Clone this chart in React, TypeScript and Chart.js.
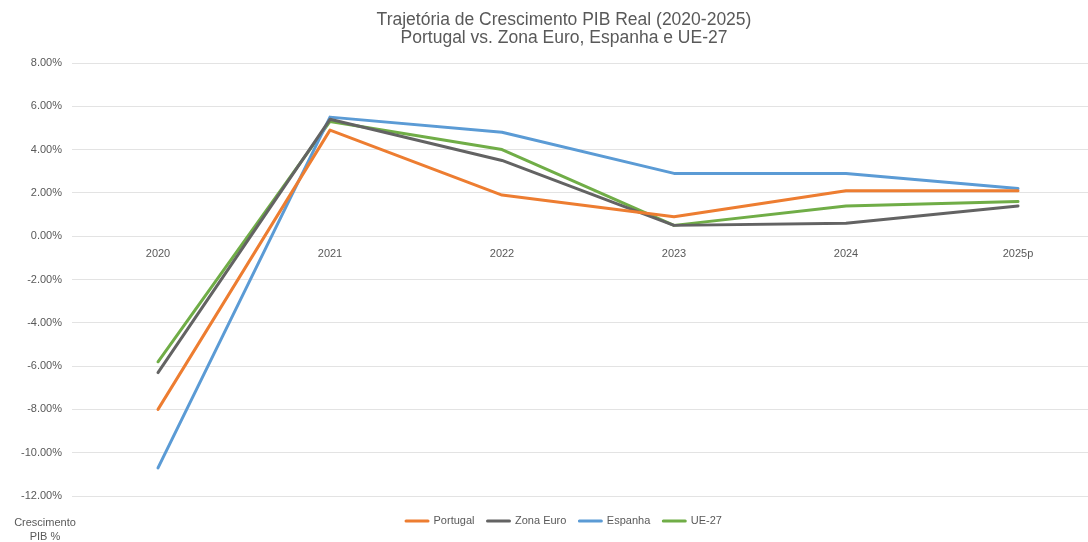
import React, { useEffect, useRef } from "react";
import { Chart, registerables } from "chart.js";

Chart.register(...registerables);

const categories = ["2020", "2021", "2022", "2023", "2024", "2025p"];
const portugal = [-8.0, 4.9, 1.9, 0.9, 2.1, 2.1];
const zonaEuro = [-6.3, 5.4, 3.5, 0.5, 0.6, 1.4];
const espanha = [-10.7, 5.5, 4.8, 2.9, 2.9, 2.2];
const ue27 = [-5.8, 5.3, 4.0, 0.5, 1.4, 1.6];
const titleLines = ["Trajetória de Crescimento PIB Real (2020-2025)", "Portugal vs. Zona Euro, Espanha e UE-27"];
const yAxisTitle = ["Crescimento", "PIB %"];

const FONT = "'Liberation Sans', Arial, Helvetica, sans-serif";
const TEXT = "#595959";

export default function App() {
  const ref = useRef<HTMLCanvasElement | null>(null);
  useEffect(() => {
    if (!ref.current) return;
    const axisTitlePlugin = {
      id: "axisTitleBottom",
      afterDraw(chart: any) {
        const ctx = chart.ctx;
        ctx.save();
        ctx.fillStyle = TEXT;
        ctx.font = `11px ${FONT}`;
        ctx.textAlign = "center";
        ctx.textBaseline = "middle";
        ctx.fillText(yAxisTitle[0], 45, 523);
        ctx.fillText(yAxisTitle[1], 45, 537);
        ctx.restore();
      },
    };
    const mk = (label: string, data: number[], color: string) => ({
      label,
      data,
      borderColor: color,
      backgroundColor: color,
      borderWidth: 3,
      pointRadius: 0,
      pointHoverRadius: 0,
      tension: 0,
      borderCapStyle: "round" as const,
      borderJoinStyle: "round" as const,
      yAxisID: "y",
    });
    const chart = new Chart(ref.current, {
      type: "line",
      data: {
        labels: categories,
        datasets: [
          mk("Portugal", portugal, "#ED7D31"),
          mk("Zona Euro", zonaEuro, "#636363"),
          mk("Espanha", espanha, "#5B9BD5"),
          mk("UE-27", ue27, "#70AD47"),
        ],
      },
      options: {
        responsive: false,
        animation: false,
        layout: { padding: { left: 0, right: 0, top: 0, bottom: 5.5 } },
        plugins: {
          title: {
            display: true,
            text: titleLines,
            color: TEXT,
            font: { family: FONT, size: 17.5, weight: "normal", lineHeight: 18 / 17.5 },
            padding: { top: 11, bottom: 16 },
          },
          legend: {
            display: true,
            position: "bottom",
            title: {
              display: true,
              text: "",
              font: { size: 1, lineHeight: 1 },
              padding: { top: 5.5, bottom: 0 },
            },
            labels: {
              boxWidth: 22,
              boxHeight: 0,
              color: TEXT,
              font: { family: FONT, size: 11 },
              padding: 13,
            },
          },
          tooltip: { enabled: false },
        },
        scales: {
          x: {
            type: "category",
            offset: true,
            position: { y: 0 } as any,
            grid: { display: false, drawTicks: false },
            border: { display: false },
            ticks: { color: TEXT, font: { family: FONT, size: 11 }, padding: 11, maxRotation: 0 },
          },
          y: {
            min: -12,
            max: 8,
            grid: { color: "#e3e3e3", drawTicks: false, lineWidth: 1 },
            border: { display: false },
            afterFit: (s: any) => { s.width = 72; },
            ticks: {
              stepSize: 2,
              color: TEXT,
              font: { family: FONT, size: 11 },
              padding: 10,
              callback: (v: any) => Number(v).toFixed(2) + "%",
            },
          },
          yRight: {
            position: "right",
            min: -12,
            max: 8,
            grid: { display: false, drawTicks: false },
            border: { display: false },
            ticks: { display: false },
            afterFit: (s: any) => { s.width = 24; },
          },
        },
      },
      plugins: [axisTitlePlugin],
    });
    return () => chart.destroy();
  }, []);
  return (
    <div style={{ position: "fixed", left: 0, top: 0, width: 1088, height: 542, overflow: "hidden", background: "#fff" }}>
      <canvas ref={ref} width={1128} height={542} style={{ display: "block" }} />
    </div>
  );
}
